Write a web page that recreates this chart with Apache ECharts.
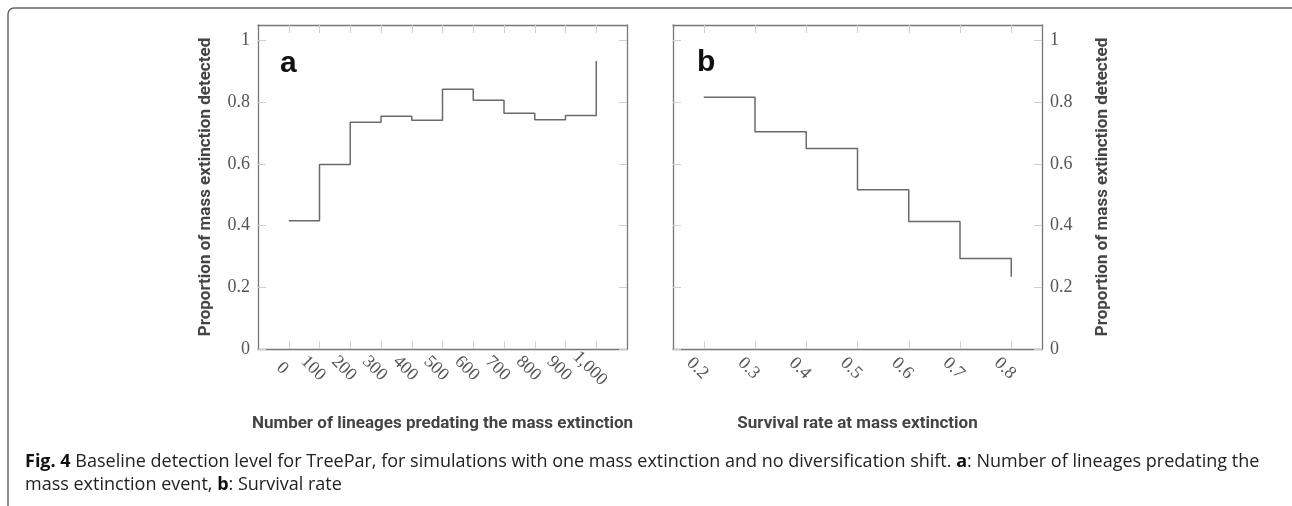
<!DOCTYPE html>
<html>
<head>
<meta charset="utf-8">
<script src="https://cdn.jsdelivr.net/npm/echarts@6/dist/echarts.min.js"></script>
<style>
  html, body { margin: 0; padding: 0; background: #fff; }
  #main { width: 1292px; height: 506px; }
</style>
</head>
<body>
<div id="main"></div>
<script>
// panel a
var lineages = [0, 100, 200, 300, 400, 500, 600, 700, 800, 900, 1000];
var lineageProp = [0.416, 0.598, 0.735, 0.754, 0.741, 0.842, 0.806, 0.764, 0.743, 0.757, 0.933];
// panel b
var survival = [0.2, 0.3, 0.4, 0.5, 0.6, 0.7, 0.8];
var survivalProp = [0.816, 0.704, 0.65, 0.516, 0.413, 0.293, 0.234];
// y ticks shared by both panels
var propTicks = [0, 0.2, 0.4, 0.6, 0.8, 1];

var captionLine1 = "{b|Fig. 4} Baseline detection level for TreePar, for simulations with one mass extinction and no diversification shift. {b|a}: Number of lineages predating the";
var captionLine2 = "mass extinction event, {b|b}: Survival rate";

var chartDom = document.getElementById("main");
var myChart = echarts.init(chartDom);

var frameColor = "#777";
var tickColor = "#cfcfcf";
var labelFont = {
  fontFamily: "Liberation Serif",
  fontSize: 18,
  color: "#555",
};
var titleFont = {
  fontFamily: "Roboto",
  fontWeight: "bold",
  fontSize: 17,
  color: "#444",
};

function xAxisBase(grid, pos, min, max, ticks, showLabel, name) {
  return {
    type: "value",
    gridIndex: grid,
    position: pos,
    min: min,
    max: max,
    splitLine: { show: false },
    axisLine: { onZero: false, lineStyle: { color: frameColor, width: 1.3 } },
    axisTick: {
      inside: true,
      length: 8,
      customValues: ticks,
      lineStyle: { color: tickColor },
    },
    axisLabel: Object.assign(
      {
        show: showLabel,
        customValues: ticks,
        rotate: -45,
        align: "center",
        verticalAlign: "top",
        margin: 13,
        formatter: function (v) {
          return v >= 1000 ? v.toLocaleString("en-US") : String(v);
        },
      },
      labelFont
    ),
    name: name,
    nameLocation: "middle",
    nameGap: 66,
    nameTextStyle: titleFont,
  };
}

function yAxisBase(grid, pos, showLabel, name, gap) {
  return {
    type: "value",
    gridIndex: grid,
    position: pos,
    min: 0,
    max: 1.05,
    splitLine: { show: false },
    axisLine: { onZero: false, lineStyle: { color: frameColor, width: 1.3 } },
    axisTick: {
      inside: true,
      length: 8,
      customValues: propTicks,
      lineStyle: { color: tickColor },
    },
    axisLabel: Object.assign(
      { show: showLabel, customValues: propTicks, margin: 8 },
      labelFont
    ),
    name: name,
    nameLocation: "middle",
    nameGap: gap,
    nameRotate: 90,
    nameTextStyle: titleFont,
  };
}

var option = {
  animation: false,
  grid: [
    { left: 258, top: 25, width: 369, height: 324 },
    { left: 673, top: 25, width: 369, height: 324 },
  ],
  xAxis: [
    xAxisBase(0, "bottom", -100, 1100, lineages, true, "Number of lineages predating the mass extinction"),
    xAxisBase(0, "top", -100, 1100, lineages, false, ""),
    xAxisBase(1, "bottom", 0.14, 0.86, survival, true, "Survival rate at mass extinction"),
    xAxisBase(1, "top", 0.14, 0.86, survival, false, ""),
  ],
  yAxis: [
    yAxisBase(0, "left", true, "Proportion of mass extinction detected", 44),
    yAxisBase(0, "right", false, "", 0),
    yAxisBase(1, "right", true, "Proportion of mass extinction detected", 52),
    yAxisBase(1, "left", false, "", 0),
  ],
  series: [
    {
      type: "line",
      xAxisIndex: 0,
      yAxisIndex: 0,
      step: "end",
      showSymbol: false,
      data: lineages.map(function (x, i) {
        return [x, lineageProp[i]];
      }),
      lineStyle: { color: "#6a6a6a", width: 1.5 },
    },
    {
      type: "line",
      xAxisIndex: 2,
      yAxisIndex: 2,
      step: "end",
      showSymbol: false,
      data: survival.map(function (x, i) {
        return [x, survivalProp[i]];
      }),
      lineStyle: { color: "#6a6a6a", width: 1.5 },
    },
  ],
  graphic: [
    // page frame
    {
      type: "rect",
      silent: true,
      shape: { x: 8, y: 8, width: 1300, height: 600, r: 6 },
      style: { fill: null, stroke: "#666", lineWidth: 1.5 },
    },
    {
      type: "text",
      left: 280,
      top: 49,
      style: { text: "a", font: "bold 30px Liberation Sans", fill: "#111" },
    },
    {
      type: "text",
      left: 697,
      top: 48,
      style: { text: "b", font: "bold 30px Liberation Sans", fill: "#111" },
    },
    {
      type: "text",
      left: 25,
      top: 450,
      style: {
        text: captionLine1 + "\n" + captionLine2,
        fontFamily: "Open Sans",
        fontSize: 18,
        lineHeight: 23,
        fill: "#222",
        rich: {
          b: { fontFamily: "Open Sans", fontWeight: "bold", fontSize: 18, fill: "#111" },
        },
      },
    },
  ],
};

myChart.setOption(option);
</script>
</body>
</html>
